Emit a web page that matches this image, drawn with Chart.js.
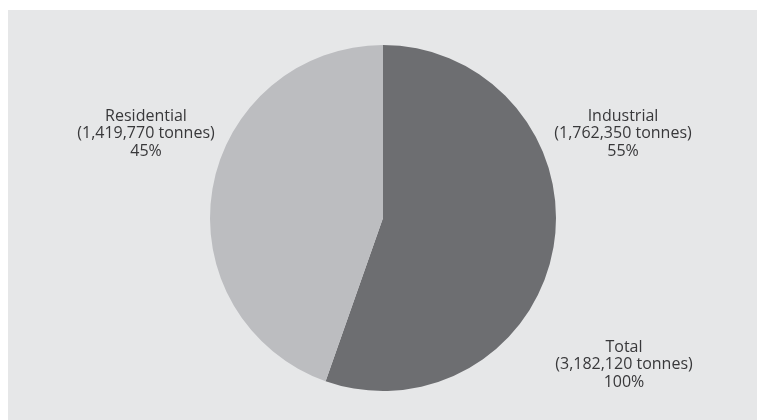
<!DOCTYPE html>
<html>
<head>
<meta charset="utf-8">
<script src="https://cdn.jsdelivr.net/npm/chart.js@4/dist/chart.umd.min.js"></script>
<style>
    html, body {
        margin: 0;
        padding: 0;
        background: #ffffff;
    }
    .panel {
        position: absolute;
        left: 8px;
        top: 10px;
        right: 0;
        bottom: 0;
        background: #e6e7e8;
    }
    .chart-box {
        position: absolute;
        left: 0;
        top: 0;
        width: 757px;
        height: 420px;
    }
</style>
</head>
<body>
<div class="panel"></div>
<div class="chart-box"><canvas id="wasteChart"></canvas></div>
<script>
// Waste by source, in tonnes
const categories = ["Industrial", "Residential"];
const tonnes = [1762350, 1419770];
const sliceColors = ["#6d6e71", "#bcbdc0"];

const totalLabel = "Total";
const total = tonnes.reduce((a, b) => a + b, 0);

function fmt(n) {
    return n.toLocaleString("en-US");
}

function pct(n) {
    return Math.round(n / total * 100) + "%";
}

// Text blocks placed around the pie, offsets measured from the pie centre
const labelBlocks = [
    { lines: [categories[1], "(" + fmt(tonnes[1]) + " tonnes)", pct(tonnes[1])], dx: -237, dy: -102 },
    { lines: [categories[0], "(" + fmt(tonnes[0]) + " tonnes)", pct(tonnes[0])], dx: 240, dy: -102 },
    { lines: [totalLabel, "(" + fmt(total) + " tonnes)", pct(total)], dx: 241, dy: 129 }
];

const sideLabels = {
    id: "sideLabels",
    afterDraw(chart) {
        const arc = chart.getDatasetMeta(0).data[0];
        if (!arc) return;
        const ctx = chart.ctx;
        ctx.save();
        ctx.fillStyle = "#38383a";
        ctx.font = "16px 'Open Sans', sans-serif";
        ctx.textAlign = "center";
        ctx.textBaseline = "middle";
        labelBlocks.forEach(block => {
            block.lines.forEach((line, i) => {
                ctx.fillText(line, arc.x + block.dx, arc.y + block.dy + i * 17.5);
            });
        });
        ctx.restore();
    }
};

const ctx = document.getElementById("wasteChart").getContext("2d");
new Chart(ctx, {
    type: "pie",
    data: {
        labels: categories,
        datasets: [
            {
                data: tonnes,
                backgroundColor: sliceColors,
                borderWidth: 0
            }
        ]
    },
    options: {
        responsive: true,
        maintainAspectRatio: false,
        animation: false,
        layout: {
            padding: { left: 210, right: 201, top: 45, bottom: 29 }
        },
        plugins: {
            legend: { display: false },
            tooltip: { enabled: false }
        }
    },
    plugins: [sideLabels]
});
</script>
</body>
</html>
